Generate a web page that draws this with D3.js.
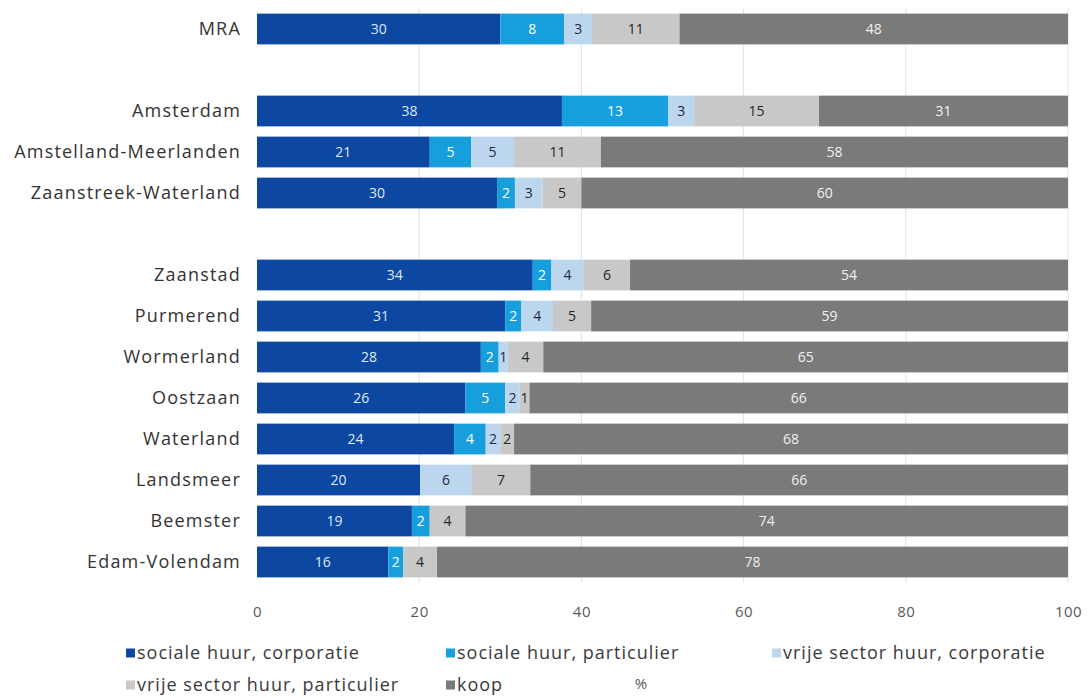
<!DOCTYPE html>
<html>
<head>
<meta charset="utf-8">
<script src="https://cdn.jsdelivr.net/npm/d3@7"></script>
<style>
  body { margin: 0; background: #fff; }
  svg { display: block; font-family: "Open Sans", Lato, sans-serif; }
</style>
</head>
<body>
<svg id="chart" width="1089" height="698"></svg>
<script>
// regions, "" = empty row between groups
var regions = ["MRA", "", "Amsterdam", "Amstelland-Meerlanden", "Zaanstreek-Waterland", "",
  "Zaanstad", "Purmerend", "Wormerland", "Oostzaan", "Waterland", "Landsmeer", "Beemster", "Edam-Volendam"];

var socialeCorporatie   = [30.0, null, 37.6, 21.3, 29.6, null, 34.0, 30.6, 27.6, 25.7, 24.3, 20.1, 19.1, 16.2];
var socialeParticulier  = [ 7.9, null, 13.1,  5.1,  2.2, null,  2.3,  2.0,  2.2,  4.9,  3.9,  0.0,  2.2,  1.8];
var vrijeCorporatie     = [ 3.4, null,  3.2,  5.3,  3.4, null,  4.0,  3.9,  1.1,  1.8,  1.8,  6.4,  0.0,  0.0];
var vrijeParticulier    = [10.8, null, 15.4, 10.7,  4.8, null,  5.7,  4.7,  4.4,  1.2,  1.7,  7.2,  4.4,  4.2];
var koop                = [47.9, null, 30.7, 57.6, 60.0, null, 54.0, 58.8, 64.7, 66.4, 68.3, 66.3, 74.3, 77.8];

var seriesNames = ["sociale huur, corporatie", "sociale huur, particulier", "vrije sector huur, corporatie",
  "vrije sector huur, particulier", "koop"];
var seriesColors = ["#0c47a1", "#169fdc", "#bcd6ee", "#c8c8c8", "#7a7a7a"];
var labelColors  = ["#dfe9f6", "#ffffff", "#1e2a44", "#262626", "#f0f0f0"];
var xTicks = [0, 20, 40, 60, 80, 100];

var svg = d3.select("#chart");

var x = d3.scaleLinear().domain([0, 100]).range([257, 1068]);
var y = d3.scaleBand()
    .domain(d3.range(regions.length))
    .range([8.5, 582.5])
    .paddingInner(0.25)
    .paddingOuter(0.125);

// build rows for stacking
var allSeries = [socialeCorporatie, socialeParticulier, vrijeCorporatie, vrijeParticulier, koop];
var rows = regions.map(function(r, i) {
    var o = { idx: i, name: r };
    allSeries.forEach(function(s, k) { o["s" + k] = s[i] || 0; });
    return o;
}).filter(function(d) { return d.name !== ""; });

var keys = allSeries.map(function(s, k) { return "s" + k; });
var stacked = d3.stack().keys(keys)(rows);

// gridlines
svg.append("g")
    .selectAll("line")
    .data(xTicks.slice(1))
    .enter()
    .append("line")
    .attr("x1", function(d) { return x(d); })
    .attr("x2", function(d) { return x(d); })
    .attr("y1", 8.5)
    .attr("y2", 582.5)
    .attr("stroke", "#e3e3e3")
    .attr("stroke-width", 1);

// bars
var layers = svg.append("g")
    .selectAll("g")
    .data(stacked)
    .enter()
    .append("g")
    .attr("fill", function(d, k) { return seriesColors[k]; });

layers.selectAll("rect")
    .data(function(d) { return d; })
    .enter()
    .append("rect")
    .attr("x", function(d) { return x(d[0]); })
    .attr("y", function(d) { return y(d.data.idx); })
    .attr("width", function(d) { return x(d[1]) - x(d[0]); })
    .attr("height", y.bandwidth());

// value labels
layers.each(function(layer, k) {
    d3.select(this).selectAll("text")
        .data(layer.filter(function(d) { return d[1] - d[0] > 0; }))
        .enter()
        .append("text")
        .attr("x", function(d) { return x((d[0] + d[1]) / 2); })
        .attr("y", function(d) { return y(d.data.idx) + y.bandwidth() / 2; })
        .attr("dy", "0.36em")
        .attr("text-anchor", "middle")
        .attr("font-size", 14)
        .attr("fill", labelColors[k])
        .text(function(d) { return Math.round(d[1] - d[0]); });
});

// category labels
svg.append("g")
    .selectAll("text")
    .data(rows)
    .enter()
    .append("text")
    .attr("x", 241)
    .attr("y", function(d) { return y(d.idx) + y.bandwidth() / 2; })
    .attr("dy", "0.36em")
    .attr("text-anchor", "end")
    .attr("font-size", 18)
    .attr("letter-spacing", 1.2)
    .attr("fill", "#333")
    .text(function(d) { return d.name; });

// x axis tick labels
var xAxis = d3.axisBottom(x).tickValues(xTicks).tickSize(0).tickPadding(0);
var gx = svg.append("g").attr("transform", "translate(0,606)").call(xAxis);
gx.select(".domain").remove();
gx.selectAll("text")
    .attr("font-family", "'Open Sans', sans-serif")
    .attr("font-size", 15)
    .attr("letter-spacing", 0.5)
    .attr("fill", "#595959");

svg.append("text")
    .attr("x", 641)
    .attr("y", 684)
    .attr("dy", "0.36em")
    .attr("text-anchor", "middle")
    .attr("font-size", 15)
    .attr("fill", "#595959")
    .text("%");

// legend
var legendPos = [[126, 653], [446, 653], [772, 653], [126, 685], [446, 685]];
var legend = svg.append("g")
    .selectAll("g")
    .data(seriesNames)
    .enter()
    .append("g")
    .attr("transform", function(d, i) { return "translate(" + legendPos[i][0] + "," + legendPos[i][1] + ")"; });

legend.append("rect")
    .attr("x", 0)
    .attr("y", -4.5)
    .attr("width", 9)
    .attr("height", 9)
    .attr("fill", function(d, i) { return seriesColors[i]; });

legend.append("text")
    .attr("x", 11)
    .attr("dy", "0.36em")
    .attr("font-size", 18)
    .attr("letter-spacing", 1)
    .attr("fill", "#3a3a3a")
    .text(function(d) { return d; });
</script>
</body>
</html>
